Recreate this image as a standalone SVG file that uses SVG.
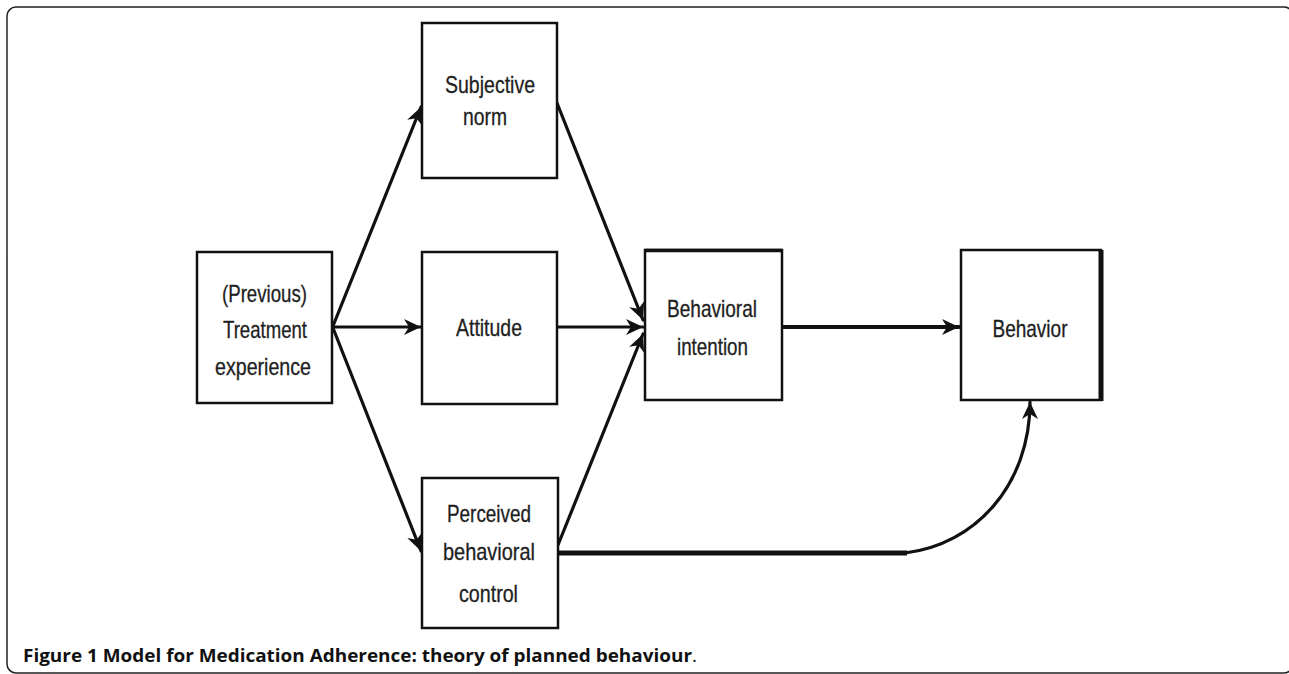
<svg xmlns="http://www.w3.org/2000/svg" width="1289" height="674" viewBox="0 0 1289 674">
<defs>
<marker id="ah" markerUnits="userSpaceOnUse" markerWidth="20" markerHeight="20" refX="17" refY="8" orient="auto" overflow="visible">
<path d="M0,0 L17,8 L0,16 L5,8 z" fill="#111"/>
</marker>
<style>
.box{fill:#fff;stroke:#111;stroke-width:2.5}
.lbl{font-family:"Liberation Sans",Arial,sans-serif;font-size:24px;fill:#1e1e1e;text-anchor:middle;stroke:#1e1e1e;stroke-width:0.3}
.con{fill:none;stroke:#111;stroke-width:3.2;stroke-linecap:round}
.cap{font-family:"Open Sans","Liberation Sans",sans-serif;font-size:18.5px;fill:#111}
</style>
</defs>
<rect width="1289" height="674" fill="#fff"/>
<rect x="7" y="7" width="1286" height="666" rx="9" fill="none" stroke="#222" stroke-width="1.5"/>

<g id="connectors">
<line class="con" x1="333" y1="326" x2="421" y2="107" marker-end="url(#ah)"/>
<line class="con" x1="333" y1="327" x2="421" y2="327" marker-end="url(#ah)"/>
<line class="con" x1="333" y1="328" x2="421" y2="551" marker-end="url(#ah)"/>
<line class="con" x1="557" y1="103" x2="643" y2="320" marker-end="url(#ah)"/>
<line class="con" x1="557" y1="327" x2="643" y2="327" marker-end="url(#ah)"/>
<line class="con" x1="558" y1="545" x2="643" y2="334" marker-end="url(#ah)"/>
<line class="con" x1="783" y1="327" x2="959" y2="327" style="stroke-width:4" marker-end="url(#ah)"/>
<path class="con" d="M558 553 H907" style="stroke-width:5;stroke-linecap:butt"/>
<path class="con" d="M905 553 C975 545 1030 485 1030 402" marker-end="url(#ah)"/>
</g>

<g id="treatment">
<rect class="box" x="197" y="252" width="135" height="151"/>
<text class="lbl" x="264.5" y="302" textLength="85" lengthAdjust="spacingAndGlyphs">(Previous)</text>
<text class="lbl" x="265" y="338" textLength="84" lengthAdjust="spacingAndGlyphs">Treatment</text>
<text class="lbl" x="263" y="375" textLength="96" lengthAdjust="spacingAndGlyphs">experience</text>
</g>

<g id="subjective-norm">
<rect class="box" x="422" y="23" width="135" height="155"/>
<text class="lbl" x="490" y="93" textLength="90" lengthAdjust="spacingAndGlyphs">Subjective</text>
<text class="lbl" x="485" y="125" textLength="44" lengthAdjust="spacingAndGlyphs">norm</text>
</g>

<g id="attitude">
<rect class="box" x="422" y="252" width="135" height="152"/>
<text class="lbl" x="489" y="336" textLength="66" lengthAdjust="spacingAndGlyphs">Attitude</text>
</g>

<g id="perceived-control">
<rect class="box" x="422" y="478" width="136" height="150"/>
<text class="lbl" x="489" y="522" textLength="84" lengthAdjust="spacingAndGlyphs">Perceived</text>
<text class="lbl" x="489" y="560" textLength="92" lengthAdjust="spacingAndGlyphs">behavioral</text>
<text class="lbl" x="488.5" y="602" textLength="59" lengthAdjust="spacingAndGlyphs">control</text>
</g>

<g id="behavioral-intention">
<rect class="box" x="645" y="250" width="137" height="150"/>
<line x1="645" y1="250.5" x2="782" y2="250.5" stroke="#111" stroke-width="3.5"/>
<text class="lbl" x="712" y="317" textLength="90" lengthAdjust="spacingAndGlyphs">Behavioral</text>
<text class="lbl" x="712.5" y="355" textLength="71" lengthAdjust="spacingAndGlyphs">intention</text>
</g>

<g id="behavior">
<rect class="box" x="961" y="250" width="140" height="150"/>
<line x1="1101" y1="250" x2="1101" y2="401" stroke="#111" stroke-width="5"/>
<text class="lbl" x="1030" y="337" textLength="75" lengthAdjust="spacingAndGlyphs">Behavior</text>
</g>

<text class="cap" x="23" y="662" font-weight="bold" textLength="674" lengthAdjust="spacingAndGlyphs">Figure 1 Model for Medication Adherence: theory of planned behaviour<tspan font-weight="normal">.</tspan></text>
</svg>
